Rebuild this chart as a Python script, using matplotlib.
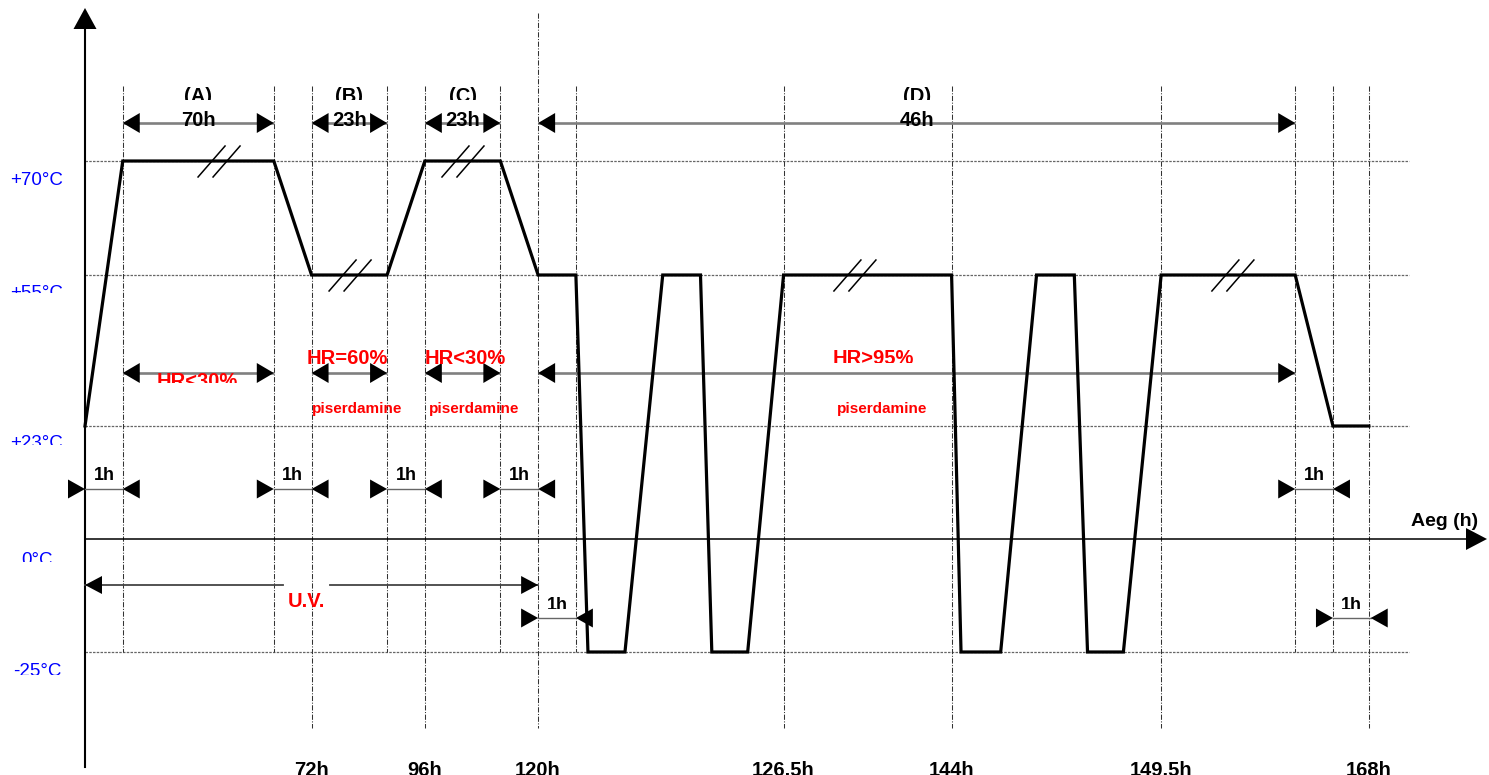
import matplotlib
matplotlib.use('Agg')
import matplotlib.pyplot as plt
from matplotlib.transforms import Bbox, TransformedBbox

# ---------------- data ----------------
temp_levels = [70, 55, 23, 0, -25]
temp_labels = ['+70°C', '+55°C', '+23°C', '0°C', '-25°C']

# schematic time axis (1 unit = one 1h ramp in the drawing)
profile_t = [0, 1, 5, 6, 8, 9, 11, 12, 13, 13.32, 14.3, 15.3, 16.3, 16.6,
             17.55, 18.5, 22.95, 23.2, 24.25, 25.2, 26.2, 26.55, 27.5, 28.5,
             32.05, 33.05, 34]
profile_temp = [23, 70, 70, 55, 55, 70, 70, 55, 55, -25, -25, 55, 55, -25,
                -25, 55, 55, -25, -25, 55, 55, -25, -25, 55, 55, 23, 23]

grid_t = [1, 5, 6, 8, 9, 11, 12, 13, 18.5, 22.95, 28.5, 32.05, 33.05, 34]
tick_t = [6, 9, 12, 18.5, 22.95, 28.5, 34]
tick_labels = ['72h', '96h', '120h', '126.5h', '144h', '149.5h', '168h']

phase_names = ['(A)', '(B)', '(C)', '(D)']
phase_start = [1, 6, 9, 12]
phase_end = [5, 8, 11, 32.05]
phase_durations = ['70h', '23h', '23h', '46h']
phase_humidity = ['HR<30%', 'HR=60%', 'HR<30%', 'HR>95%']
phase_note = ['', 'piserdamine', 'piserdamine', 'piserdamine']

ramp_upper_start = [0, 5, 8, 11, 32.05]
ramp_lower_start = [12, 33.05]
ramp_len = 1
ramp_label = '1h'

uv_start, uv_end = 0, 12
uv_label = 'U.V.'
axis_label = 'Aeg (h)'

slash_t = [3.55, 7.02, 10.01, 20.39, 30.4]
slash_temp = [70, 55, 70, 55, 55]

# ---------------- layout (pixels) ----------------
W, H = 1489, 775
X0PX, Y0PX = 85, 539
PX_PER_T = 37.76
PX_PER_LEVEL = 113
level_px = [161, 275, 426, 539, 652]

fig = plt.figure(figsize=(W / 100, H / 100), dpi=100)
ax = fig.add_axes([0, 0, 1, 1])
ax.set_xlim(-X0PX / PX_PER_T, (W - X0PX) / PX_PER_T)
ax.set_ylim((Y0PX - H) / PX_PER_LEVEL, Y0PX / PX_PER_LEVEL)
ax.axis('off')


def tx(px):
    return (px - X0PX) / PX_PER_T


def ty(px):
    return (Y0PX - px) / PX_PER_LEVEL


def dx(px):
    return px / PX_PER_T


def dy(px):
    return px / PX_PER_LEVEL


level_y = dict(zip(temp_levels, [ty(p) for p in level_px]))
FONT = ['Liberation Sans', 'DejaVu Sans']
XL = ax.get_xlim()
YL = ax.get_ylim()


def label(x, base_px, s, size, color='black', weight='bold', clip_px=None, ha='center'):
    t = ax.text(x, ty(base_px), s, fontsize=size, color=color, fontweight=weight,
                ha=ha, va='baseline', family=FONT, zorder=6)
    if clip_px is not None:
        bb = TransformedBbox(Bbox.from_extents(XL[0], ty(clip_px), XL[1], YL[1]), ax.transData)
        t.set_clip_box(bb)
        t.set_clip_on(True)
    else:
        t.set_clip_on(False)
    return t


def head(tip, y, direction, length_px=17, half_px=10):
    b = tip - direction * dx(length_px)
    ax.fill([tip, b, b], [y, y + dy(half_px), y - dy(half_px)], color='black', lw=0, zorder=5)


# horizontal dotted reference lines
for T in [70, 55, 23, -25]:
    ax.plot([0, tx(1409)], [level_y[T]] * 2, color='#666666', lw=0.9,
            linestyle=(0, (2, 1)), zorder=1)

# vertical dash-dot grid lines
for t in grid_t:
    top = 13 if t == 12 else 86
    bot = 728 if t in tick_t else 652
    ax.plot([t, t], [ty(top), ty(bot)], color='#333333', lw=0.75,
            linestyle=(0, (5, 1.5, 1, 1.5)), zorder=1)

# axes with arrows
ax.plot([0, 0], [ty(767), ty(29)], color='black', lw=1.5, zorder=3)
ax.fill([0, -dx(11.5), dx(11.5)], [ty(8), ty(29), ty(29)], color='black', lw=0, zorder=3)
ax.plot([0, tx(1466)], [0, 0], color='black', lw=1.1, zorder=3)
ax.fill([tx(1487), tx(1466), tx(1466)], [0, dy(11), -dy(11)], color='black', lw=0, zorder=3)
label(tx(1445), 526, axis_label, 14)

# temperature profile
ax.plot(profile_t, [level_y[T] for T in profile_temp], color='black', lw=2.3,
        solid_joinstyle='miter', zorder=4)

# break marks
for st, sT in zip(slash_t, slash_temp):
    yl = level_y[sT]
    for off in (-7.5, 7.5):
        ax.plot([st + dx(off - 13.5), st + dx(off + 13.5)], [yl - dy(16), yl + dy(15)],
                color='black', lw=1.1, zorder=4)

# temperature labels
lab_base = [185, 298, 448, 565, 676]
lab_clip = [185, 293, 445, 562, 675]
for T, s, b, c in zip(temp_levels, temp_labels, lab_base, lab_clip):
    label(tx(37), b, s, 13.5, color='#0000ff', weight='normal', clip_px=c)

# phase duration arrows (top) and humidity arrows (middle)
hr_x = [197, 347, 465, 873]
hr_base = [387, 364, 364, 364]
hr_clip = [383, None, None, 363]
note_x = [None, 357, 474, 882]
for i in range(4):
    s, e = phase_start[i], phase_end[i]
    cx = (s + e) / 2
    for ypx in (123, 373):
        y = ty(ypx)
        ax.plot([s, e], [y, y], color='#808080', lw=1.9, solid_capstyle='butt', zorder=3)
        head(s, y, -1)
        head(e, y, +1)
    label(cx, 102.5, phase_names[i], 14.5, clip_px=100)
    label(cx, 126.5, phase_durations[i], 14.5, clip_px=126.5)
    label(tx(hr_x[i]), hr_base[i], phase_humidity[i], 14.5, color='#ff0000', clip_px=hr_clip[i])
    if phase_note[i]:
        label(tx(note_x[i]), 413, phase_note[i], 11, color='#ff0000')

# 1h transition arrows
for starts, ypx, base, clip in ((ramp_upper_start, 489, 480.5, 480),
                                (ramp_lower_start, 618, 609.5, 609)):
    y = ty(ypx)
    for s in starts:
        e = s + ramp_len
        ax.plot([s, e], [y, y], color='#666666', lw=1.0, zorder=3)
        head(s, y, +1, half_px=9.5)
        head(e, y, -1, half_px=9.5)
        label((s + e) / 2, base, ramp_label, 13, clip_px=clip)

# U.V. arrow
y = ty(585)
ax.plot([uv_start, tx(283)], [y, y], color='#444444', lw=1.3, zorder=3)
ax.plot([tx(330), uv_end], [y, y], color='#444444', lw=1.3, zorder=3)
head(uv_start, y, -1, half_px=9)
head(uv_end, y, +1, half_px=9)
label(tx(306), 607, uv_label, 14.5, color='#ff0000')

# bottom time labels (cut by the lower edge, as in the original)
for t, s in zip(tick_t, tick_labels):
    label(t, 776, s, 14.5)

fig.savefig('out.png', dpi=100)
